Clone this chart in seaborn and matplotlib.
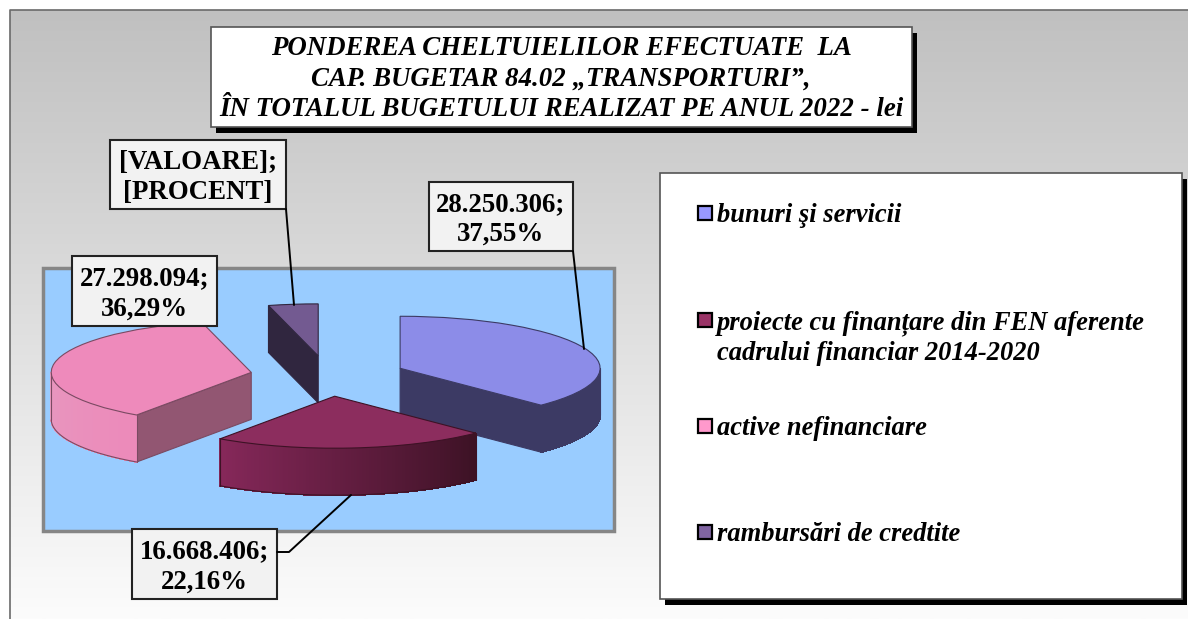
import numpy as np
import seaborn as sns
import matplotlib
matplotlib.use("Agg")
import matplotlib.pyplot as plt
from matplotlib.patches import Rectangle

sns.set_theme(style="white")
plt.rcParams['font.family'] = ['Liberation Serif', 'DejaVu Serif']

# data
categories = ["bunuri şi servicii",
              "proiecte cu finanțare din FEN aferente\ncadrului financiar 2014-2020",
              "active nefinanciare",
              "rambursări de credtite"]
values = [28250306, 16668406, 27298094, 3010000]
value_labels = ["28.250.306;\n37,55%", "16.668.406;\n22,16%", "27.298.094;\n36,29%", "[VALOARE];\n[PROCENT]"]
title = "PONDEREA CHELTUIELILOR EFECTUATE  LA\nCAP. BUGETAR 84.02 „TRANSPORTURI”,\nÎN TOTALUL BUGETULUI REALIZAT PE ANUL 2022 - lei"

# colours
top_colors = sns.color_palette(["#8c8ce8", "#8c2d5e", "#ee8abb", "#735a91"])
legend_colors = ["#9999ff", "#993366", "#ff99cc", "#8064a2"]
edge_colors = ["#3c3a64", "#3d1225", "#7a4a62", "#30263f"]
arc_colors = [("#3c3a64", "#3c3a64"), ("#86285a", "#3d1225"), ("#e798bf", "#ec8aba"), ("#30263f", "#30263f")]
cut_colors = ["#3c3a64", "#3c3a64", "#925672", "#30263f"]
draw_order = [3, 0, 2, 1]

W, H = 1188, 619
CX, CY, RX, RY, DEPTH = 328, 376, 200, 52, 47

fig = plt.figure(figsize=(W / 100, H / 100), dpi=100, facecolor="white")

# background in pixel coords
bg = fig.add_axes([0, 0, 1, 1], zorder=0)
bg.set_xlim(0, W)
bg.set_ylim(H, 0)
bg.axis("off")
grad = np.linspace(0, 1, 256).reshape(-1, 1)
bg.imshow(grad, extent=(10, W, H, 10), aspect="auto", cmap=sns.blend_palette(["#c0c0c0", "#fcfcfc"], as_cmap=True))
bg.set_xlim(0, W)
bg.set_ylim(H, 0)
bg.plot([10, 10, W], [H, 10, 10], color="#6a6a6a", lw=1.2)
bg.add_patch(Rectangle((42.5, 268), 571, 263, facecolor="#99ccff", edgecolor="#868686", lw=2.5))

# exploded pie, ellipse comes from the axis scales
ax = fig.add_axes([0, 0, 1, 1], zorder=1)
wedges, _ = ax.pie(values, explode=[0.39] * 4, startangle=90, counterclock=False, colors=top_colors)
ax.set_aspect("auto")
ax.set_xlim(-CX / RX, (W - CX) / RX)
ax.set_ylim((CY - H) / RY, CY / RY)
ax.axis("off")
ax.patch.set_alpha(0)
d = DEPTH / RY

for rank, i in enumerate(draw_order):
    w = wedges[i]
    z = 2 + rank * 2
    cx, cy = w.center
    ec = edge_colors[i]
    # flat cut faces
    for th, normal in [(w.theta1, w.theta1 - 90), (w.theta2, w.theta2 + 90)]:
        if np.sin(np.radians(normal)) < -1e-6:
            px, py = cx + np.cos(np.radians(th)), cy + np.sin(np.radians(th))
            ax.fill([cx, px, px, cx], [cy, py, py - d, cy - d], facecolor=cut_colors[i],
                    edgecolor=ec, lw=0.8, zorder=z)
    # rounded side, shaded left to right
    t = np.linspace(w.theta1, w.theta2, 181)
    t = t[np.sin(np.radians(t)) < 0]
    if len(t) > 1:
        xs, ys = cx + np.cos(np.radians(t)), cy + np.sin(np.radians(t))
        order = np.argsort(xs)
        xs, ys = xs[order], ys[order]
        shades = sns.blend_palette(arc_colors[i], len(t) - 1)
        for k in range(len(t) - 1):
            ax.fill([xs[k], xs[k + 1], xs[k + 1], xs[k]],
                    [ys[k], ys[k + 1], ys[k + 1] - d, ys[k] - d],
                    color=shades[k], lw=0.6, antialiased=False, zorder=z)
        ax.plot(xs, ys - d, color=ec, lw=0.8, zorder=z)
        ax.plot([xs[0], xs[0]], [ys[0], ys[0] - d], color=ec, lw=0.8, zorder=z)
        ax.plot([xs[-1], xs[-1]], [ys[-1], ys[-1] - d], color=ec, lw=0.8, zorder=z)
    w.set_zorder(z + 1)
    w.set_edgecolor(ec)
    w.set_linewidth(0.8)

# boxes and text on top
fg = fig.add_axes([0, 0, 1, 1], zorder=2)
fg.set_xlim(0, W)
fg.set_ylim(H, 0)
fg.axis("off")
fg.patch.set_alpha(0)


def shadow_box(x0, y0, x1, y1):
    fg.add_patch(Rectangle((x0 + 5, y0 + 6), x1 - x0, y1 - y0, facecolor="black", edgecolor="none"))
    fg.add_patch(Rectangle((x0, y0), x1 - x0, y1 - y0, facecolor="white", edgecolor="#555555", lw=1.2))


shadow_box(211, 27, 911.5, 127)
fg.text(561, 79, title, ha="center", va="center", fontsize=19.4, weight="bold", style="italic",
        linespacing=1.31, color="black")

# leader lines
fg.plot([286, 294], [209, 305], color="black", lw=1.4)
fg.plot([573, 584], [251, 349], color="black", lw=1.4)
fg.plot([277, 289, 351], [552, 552, 495], color="black", lw=1.4)

label_boxes = [(429, 182, 573, 251), (132, 529, 277, 599), (72, 256, 217, 326), (110, 140, 286, 209)]
for txt, (x0, y0, x1, y1) in zip(value_labels, label_boxes):
    fg.add_patch(Rectangle((x0, y0), x1 - x0, y1 - y0, facecolor="#f2f2f2", edgecolor="#222222", lw=1.5))
    fg.text((x0 + x1) / 2, (y0 + y1) / 2 + 3, txt, ha="center", va="center", fontsize=19.4, weight="bold",
            linespacing=1.28, color="black")

# legend
shadow_box(660, 173, 1182, 599)
legend_y = [213, 320, 426, 532]
for name, col, y in zip(categories, legend_colors, legend_y):
    fg.add_patch(Rectangle((698, y - 7), 14, 14, facecolor=col, edgecolor="black", lw=1.6))
    fg.text(717, y - 10, name, ha="left", va="top", fontsize=19.1, weight="bold", style="italic",
            linespacing=1.28, color="black")

fig.savefig("out.png", dpi=100)
